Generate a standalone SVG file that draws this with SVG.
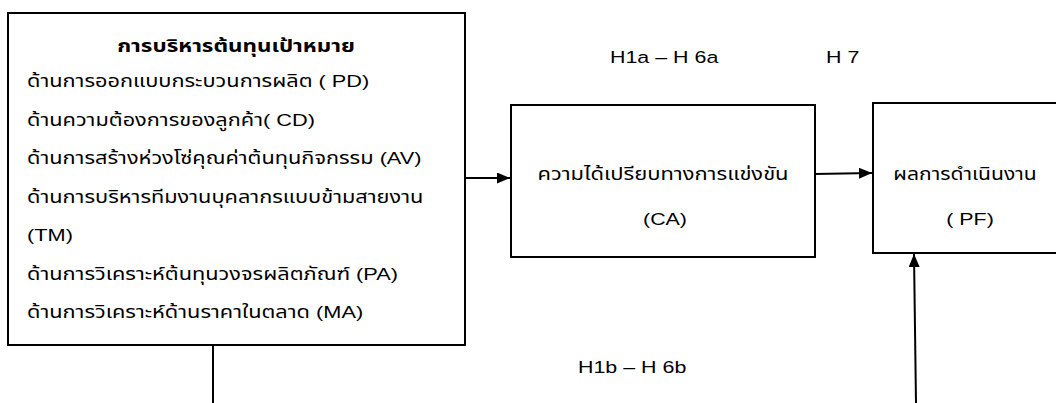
<svg xmlns="http://www.w3.org/2000/svg" width="1056" height="403" viewBox="0 0 1056 403">
<style>
.box{fill:#fff;stroke:#000;stroke-width:2}
.t{font-family:"Liberation Sans","Noto Sans Thai","Noto Sans",sans-serif;font-size:17px;fill:#000}
.b{font-weight:bold;font-size:17.5px}
.m{text-anchor:middle}
.c{stroke:#000;stroke-width:2;fill:none}
</style>
<defs>
<marker id="ah" markerWidth="13" markerHeight="11" refX="13" refY="5.5" orient="auto" markerUnits="userSpaceOnUse">
<path d="M0,0 L13,5.5 L0,11 Z" fill="#000"/>
</marker>
</defs>
<g id="connectors">
<line class="c" x1="465" y1="178" x2="510" y2="178" marker-end="url(#ah)"/>
<line class="c" x1="815" y1="174" x2="872" y2="173" marker-end="url(#ah)"/>
<line class="c" x1="213" y1="345" x2="213" y2="403"/>
<line class="c" x1="916" y1="403" x2="914" y2="254" marker-end="url(#ah)"/>
</g>
<g id="node-tc">
<rect class="box" x="8" y="13" width="457" height="332"/>
<text class="t b m" transform="translate(236,52) scale(1.28,1)">การบริหารต้นทุนเป้าหมาย</text>
<text class="t" transform="translate(27,87) scale(1.28,1)">ด้านการออกแบบกระบวนการผลิต ( PD)</text>
<text class="t" transform="translate(27,125.5) scale(1.28,1)">ด้านความต้องการของลูกค้า( CD)</text>
<text class="t" transform="translate(27,164) scale(1.28,1)">ด้านการสร้างห่วงโซ่คุณค่าต้นทุนกิจกรรม (AV)</text>
<text class="t" transform="translate(27,202.5) scale(1.28,1)">ด้านการบริหารทีมงานบุคลากรแบบข้ามสายงาน</text>
<text class="t" transform="translate(27,241) scale(1.28,1)">(TM)</text>
<text class="t" transform="translate(27,279.5) scale(1.28,1)">ด้านการวิเคราะห์ต้นทุนวงจรผลิตภัณฑ์ (PA)</text>
<text class="t" transform="translate(27,318) scale(1.28,1)">ด้านการวิเคราะห์ด้านราคาในตลาด (MA)</text>
</g>
<g id="node-ca">
<rect class="box" x="511" y="105" width="304" height="152"/>
<text class="t m" transform="translate(663,180) scale(1.29,1)">ความได้เปรียบทางการแข่งขัน</text>
<text class="t m" transform="translate(665,225) scale(1.26,1)">(CA)</text>
</g>
<g id="node-pf">
<rect class="box" x="873" y="103" width="200" height="150"/>
<text class="t m" transform="translate(965,180) scale(1.24,1)">ผลการดำเนินงาน</text>
<text class="t m" transform="translate(970,225) scale(1.26,1)">( PF)</text>
</g>
<g id="labels">
<text class="t" transform="translate(610,63) scale(1.26,1)">H1a – H 6a</text>
<text class="t" transform="translate(826,63) scale(1.26,1)">H 7</text>
<text class="t" transform="translate(578,373) scale(1.26,1)">H1b – H 6b</text>
</g>
</svg>
